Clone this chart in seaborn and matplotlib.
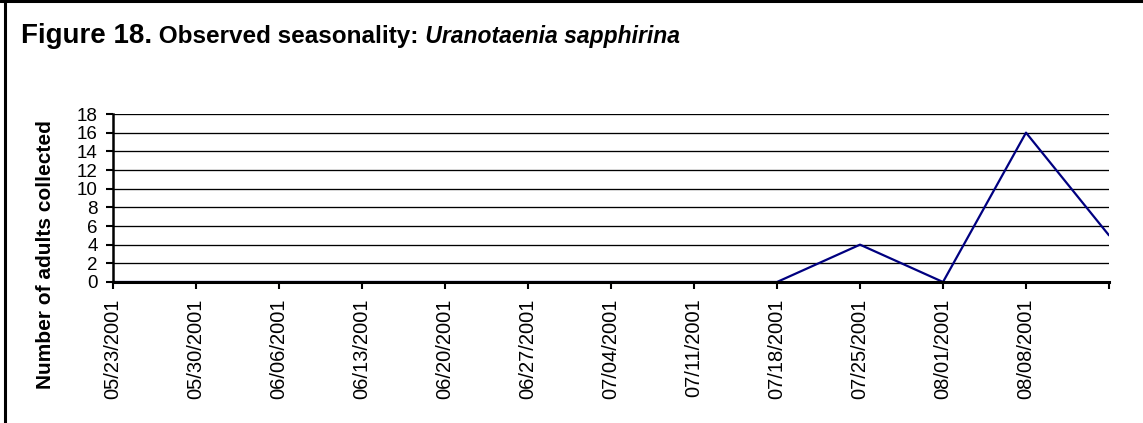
import matplotlib
matplotlib.use("Agg")
import matplotlib.pyplot as plt
from matplotlib.lines import Line2D
import seaborn as sns
import pandas as pd

# weekly collection dates and counts
dates = ["05/23/2001", "05/30/2001", "06/06/2001", "06/13/2001", "06/20/2001",
         "06/27/2001", "07/04/2001", "07/11/2001", "07/18/2001", "07/25/2001",
         "08/01/2001", "08/08/2001", "08/15/2001"]
counts = [0, 0, 0, 0, 0, 0, 0, 0, 0, 4, 0, 16, 5]
tick_labels = dates[:-1] + [""]
y_ticks = list(range(0, 19, 2))

sns.set_theme(style="white")
plt.rcParams["font.family"] = ["Liberation Sans", "DejaVu Sans"]
plt.rcParams["text.color"] = "black"

df = pd.DataFrame({"pos": range(len(dates)), "count": counts})

W, H = 1143, 423
fig = plt.figure(figsize=(W / 100, H / 100), dpi=100)
ax = fig.add_axes([113 / W, 1 - 282 / H, (1109 - 113) / W, (282 - 114) / H])

sns.lineplot(data=df, x="pos", y="count", ax=ax, color="#000080", linewidth=1.6,
             zorder=3, legend=False)

ax.set_xlim(0, len(dates) - 1)
ax.set_ylim(0, 18)
ax.set_yticks(y_ticks)
ax.set_yticklabels([str(v) for v in y_ticks], fontsize=13.5)
ax.set_xticks(range(len(dates)))
ax.set_xticklabels(tick_labels, rotation=90, fontsize=14.5)
ax.set_xlabel("")
ax.set_ylabel("")

for v in y_ticks[1:]:
    ax.axhline(v, color="black", linewidth=0.95, zorder=1)

for s in ["top", "right"]:
    ax.spines[s].set_visible(False)
for s in ["left", "bottom"]:
    ax.spines[s].set_color("black")
    ax.spines[s].set_zorder(5)
ax.spines["left"].set_linewidth(1.8)
ax.spines["bottom"].set_linewidth(2.2)
ax.tick_params(axis="both", direction="out", width=1.5, color="black",
               labelcolor="black", left=True, bottom=True)
ax.tick_params(axis="y", length=5, pad=6)
ax.tick_params(axis="x", length=5, pad=7)

fig.text(46 / W, 1 - 255 / H, "Number of adults collected", rotation=90,
         ha="center", va="center", fontsize=15, fontweight="bold", color="black")

# title pieces chained left to right
renderer = fig.canvas.get_renderer()
x0 = 21 / W
yb = 1 - 43 / H
parts = [("Figure 18.", 20, "normal"), (" Observed seasonality:", 17.5, "normal"),
         (" Uranotaenia sapphirina", 16.5, "italic")]
for txt, size, style in parts:
    t = fig.text(x0, yb, txt, fontsize=size, fontweight="bold", fontstyle=style,
                 ha="left", va="baseline", color="black")
    bb = t.get_window_extent(renderer=renderer)
    x0 = bb.x1 / fig.bbox.width

# page frame on top and left
fig.add_artist(Line2D([0, 1], [1 - 1.5 / H, 1 - 1.5 / H], color="black", linewidth=2.2))
fig.add_artist(Line2D([5 / W, 5 / W], [0, 1], color="black", linewidth=2.2))

fig.savefig("out.png", dpi=100, facecolor="white")
